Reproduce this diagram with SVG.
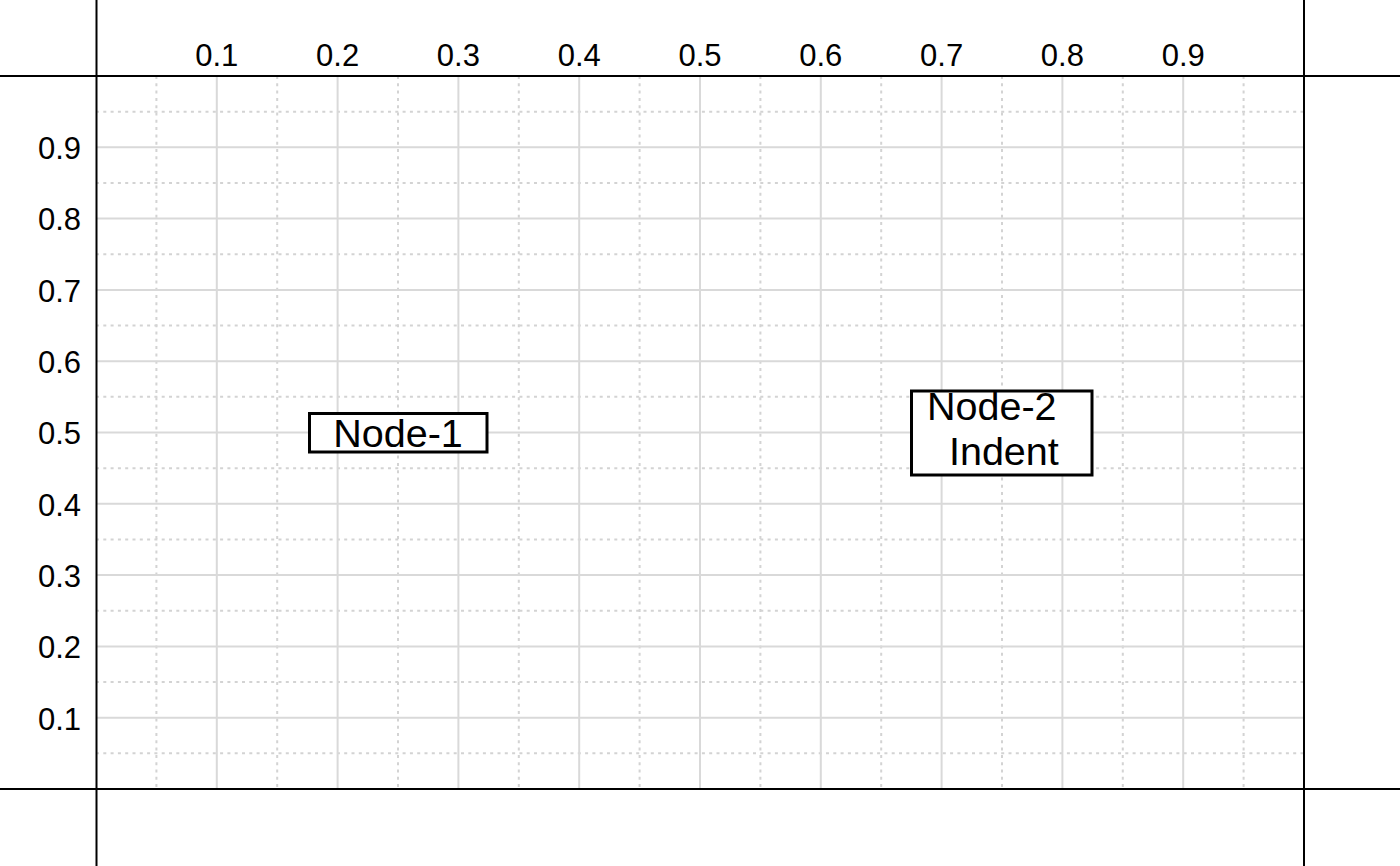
<svg xmlns="http://www.w3.org/2000/svg" width="1400" height="866" viewBox="0 0 1400 866">
<style>
.maj{stroke:#d9d9d9;stroke-width:2;fill:none}
.min{stroke:#d3d3d3;stroke-width:2;stroke-dasharray:3 4.3;fill:none}
.ax{stroke:#000;stroke-width:2;fill:none}
.tk{font-family:"Liberation Sans",Arial,sans-serif;font-size:31px;fill:#000}
.nb{fill:#fff;stroke:#000;stroke-width:3}
.nt{font-family:"Liberation Sans",Arial,sans-serif;font-size:39.5px;fill:#000}
</style>
<rect width="1400" height="866" fill="#fff"/>
<g id="grid">
<g class="min">
<path d="M156.4 76V789M277.2 76V789M398 76V789M518.8 76V789M639.6 76V789M760.4 76V789M881.2 76V789M1002 76V789M1122.8 76V789M1243.6 76V789"/>
<path d="M96 753.35H1304M96 682.05H1304M96 610.75H1304M96 539.45H1304M96 468.15H1304M96 396.85H1304M96 325.55H1304M96 254.25H1304M96 182.95H1304M96 111.65H1304"/>
</g>
<g class="maj">
<path d="M216.8 76V789M337.6 76V789M458.4 76V789M579.2 76V789M700 76V789M820.8 76V789M941.6 76V789M1062.4 76V789M1183.2 76V789"/>
<path d="M96 717.7H1304M96 646.4H1304M96 575.1H1304M96 503.8H1304M96 432.5H1304M96 361.2H1304M96 289.9H1304M96 218.6H1304M96 147.3H1304"/>
</g>
<g class="ax">
<path d="M0 76H1400M0 789H1400M96.5 0V866M1304 0V866"/>
</g>
</g>
<g id="xticks" class="tk" text-anchor="middle">
<text x="216.8" y="65.5">0.1</text>
<text x="337.6" y="65.5">0.2</text>
<text x="458.4" y="65.5">0.3</text>
<text x="579.2" y="65.5">0.4</text>
<text x="700" y="65.5">0.5</text>
<text x="820.8" y="65.5">0.6</text>
<text x="941.6" y="65.5">0.7</text>
<text x="1062.4" y="65.5">0.8</text>
<text x="1183.2" y="65.5">0.9</text>
</g>
<g id="yticks" class="tk" text-anchor="end">
<text x="81" y="729.5">0.1</text>
<text x="81" y="658.2">0.2</text>
<text x="81" y="586.9">0.3</text>
<text x="81" y="515.6">0.4</text>
<text x="81" y="444.3">0.5</text>
<text x="81" y="373">0.6</text>
<text x="81" y="301.7">0.7</text>
<text x="81" y="230.4">0.8</text>
<text x="81" y="159.1">0.9</text>
</g>
<g id="node1">
<rect class="nb" x="309.5" y="413.5" width="177.5" height="38.5"/>
<text class="nt" x="398" y="447" text-anchor="middle">Node-1</text>
</g>
<g id="node2">
<rect class="nb" x="911.5" y="391" width="180.5" height="84"/>
<text class="nt" x="927" y="420" xml:space="preserve">Node-2</text>
<text class="nt" x="927" y="464.5" xml:space="preserve">  Indent</text>
</g>
<g id="connectors"></g>
</svg>
